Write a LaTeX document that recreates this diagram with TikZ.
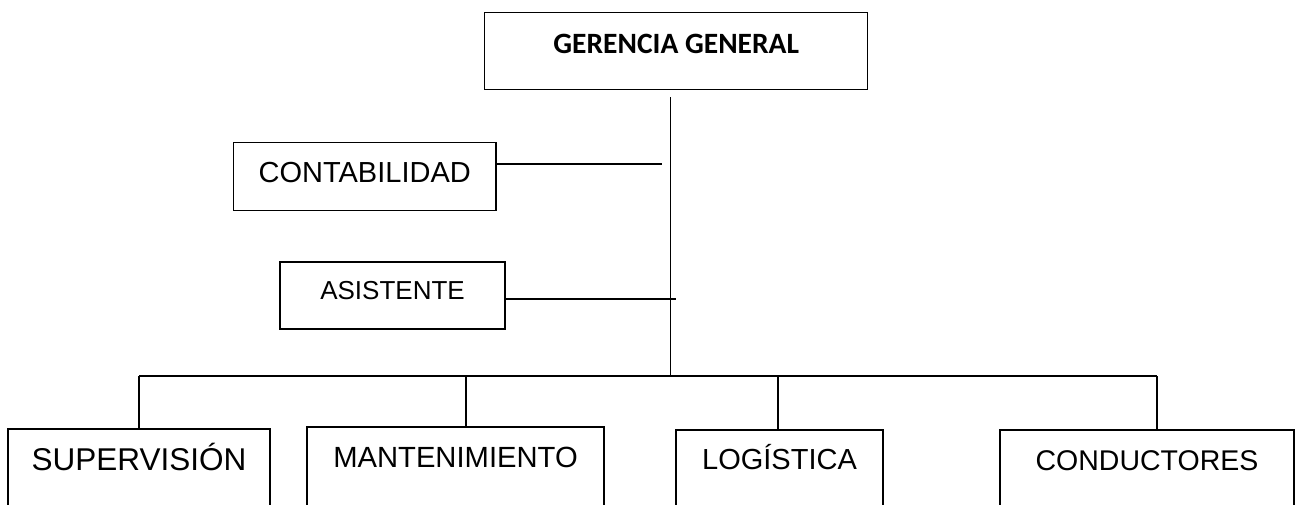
\documentclass[tikz,border=0pt]{standalone}
\usepackage{fontspec}
\setmainfont{Liberation Sans}
\newfontfamily\calibrifont{Carlito}
\begin{document}
\begin{tikzpicture}[x=1pt,y=-1pt,
  box/.style={draw=black, line width=1.5pt, rectangle, inner sep=0pt, anchor=base, align=center},
  conn/.style={draw=black, line width=1.3pt}]
\useasboundingbox (0,0) rectangle (1297,504);
\clip (0,0) rectangle (1297,504);

% top box
\node[box, minimum width=383pt, text height=40.7pt, text depth=36.3pt,
      font=\calibrifont\bfseries\fontsize{29.5}{34}\selectfont] (ger) at (676.2,53) {GERENCIA GENERAL};

% staff boxes
\node[box, minimum width=262.7pt, text height=40pt, text depth=28pt,
      font=\fontsize{29}{34}\selectfont] (cont) at (364.7,182.7) {CONTABILIDAD};
\node[box, line width=2pt, minimum width=225pt, text height=36.7pt, text depth=30.3pt,
      font=\fontsize{26}{30}\selectfont] (asis) at (392.5,299) {ASISTENTE};

% bottom boxes
\node[box, minimum width=262pt, text height=41pt, text depth=90pt,
      font=\fontsize{31.5}{36}\selectfont] (sup) at (139,470) {SUPERVISIÓN};
\node[box, minimum width=297pt, text height=40pt, text depth=90pt,
      font=\fontsize{29.2}{34}\selectfont] (mant) at (455.5,467) {MANTENIMIENTO};
\node[box, minimum width=207pt, text height=39pt, text depth=90pt,
      font=\fontsize{29}{34}\selectfont] (log) at (779.5,469) {LOGÍSTICA};
\node[box, minimum width=294pt, text height=40pt, text depth=90pt,
      font=\fontsize{28.5}{33}\selectfont] (cond) at (1147,470) {CONDUCTORES};

% coordinates
\coordinate (vtop) at (670.7,97);
\coordinate (vbot) at (670.7,376);
\coordinate (contEnd) at (662,164);
\coordinate (asisEnd) at (675.7,299);
\coordinate (busL) at (139,376);
\coordinate (busR) at (1157,376);
\coordinate (mantStub) at (466,376);
\coordinate (logStub) at (778,376);

% connectors
\draw[conn] (vtop) -- (vbot);
\draw[conn] (cont.east |- contEnd) -- (contEnd);
\draw[conn] (asis.east |- asisEnd) -- (asisEnd);
\draw[conn] (busL) -- (busR);
\draw[conn] (busL) -- (busL |- sup.north);
\draw[conn] (mantStub) -- (mantStub |- mant.north);
\draw[conn] (logStub) -- (logStub |- log.north);
\draw[conn] (busR) -- (busR |- cond.north);
\end{tikzpicture}
\end{document}
